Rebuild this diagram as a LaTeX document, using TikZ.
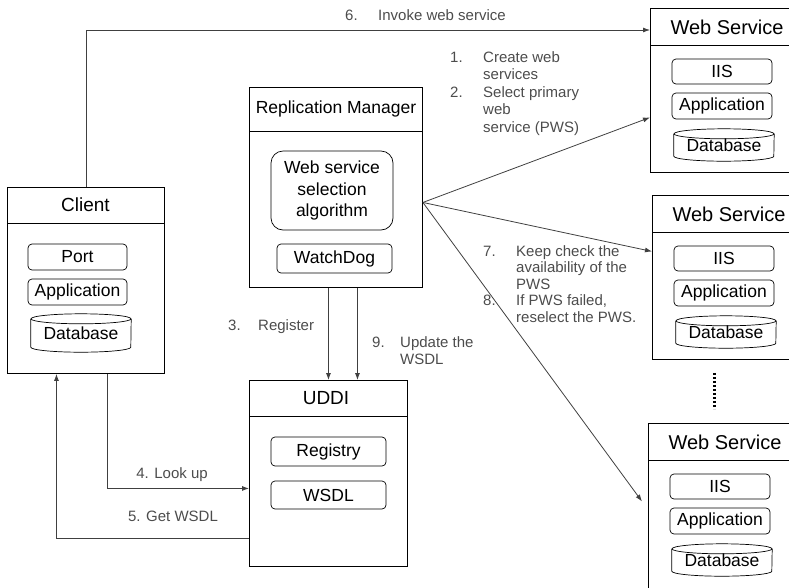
\documentclass[tikz,border=0pt]{standalone}
\usepackage{fontspec}
\setmainfont{Liberation Sans}
\usetikzlibrary{arrows.meta,calc}

\newcommand{\dbcyl}[1]{%
  \draw[line width=0.7pt] ([yshift=-5pt]#1.north west) -- ([yshift=5pt]#1.south west)
    arc[start angle=180, end angle=360, x radius=50pt, y radius=5pt]
    -- ([yshift=-5pt]#1.north east);
  \draw[line width=0.7pt] ([yshift=-5pt]#1.north) ellipse[x radius=50pt, y radius=5pt];}

\begin{document}
\begin{tikzpicture}[x=1pt,y=-1pt,
  box/.style={draw, line width=0.9pt, inner sep=0pt},
  item/.style={draw, rounded corners=4pt, line width=0.7pt, inner sep=0pt, font=\fontsize{17.5}{21.5}\selectfont},
  dbase/.style={inner sep=0pt, minimum width=100, font=\fontsize{17.5}{21}\selectfont},
  title/.style={inner sep=0pt, font=\fontsize{19}{22}\selectfont},
  lbl/.style={inner sep=0pt, text=black!70, font=\fontsize{15}{17.5}\selectfont},
  arr/.style={draw=black!75, line width=0.8pt, -{Latex[length=7pt,width=5pt]}},
  dots/.style={line width=2.2pt, dash pattern=on 2pt off 2pt}]

  \useasboundingbox (0,0) rectangle (789,587);
  \clip (0,0) rectangle (789,587);

  % client
  \node[box, minimum width=157, minimum height=186, anchor=north west] (client) at (7,187) {};
  \draw (7,223) -- (164,223);
  \node[title] (client-t) at (85.5,205) {Client};
  \node[item, minimum width=99, minimum height=26] (port) at (77.5,257) {Port};
  \node[item, minimum width=99, minimum height=26] (capp) at (77.5,292) {Application};
  \node[dbase, minimum height=38] (cdb) at (81,333) {\raisebox{-3pt}{Database}};
  \dbcyl{cdb}

  % replication manager
  \node[box, minimum width=173, minimum height=200, anchor=north west] (rm) at (249,87) {};
  \draw (249,131) -- (422,131);
  \node[title, font=\fontsize{17.5}{21}\selectfont] (rm-t) at (336,109) {Replication Manager};
  \node[item, minimum width=122, minimum height=79, align=center, rounded corners=12pt] (algo) at (332,190.5) {Web service\\selection\\algorithm};
  \node[item, minimum width=115, minimum height=29] (dog) at (334.5,258.5) {WatchDog};

  % uddi
  \node[box, minimum width=158, minimum height=186, anchor=north west] (uddi) at (249,380) {};
  \draw (249,416) -- (407,416);
  \node[title] (uddi-t) at (326,398) {UDDI};
  \node[item, minimum width=115, minimum height=29] (reg) at (328.5,451.5) {Registry};
  \node[item, minimum width=115, minimum height=28] (wsdl) at (328.5,495) {WSDL};

  % web services
  \foreach \n/\x/\y/\h in {ws1/650/8/164, ws2/652/195/164, ws3/648/423/170} {
    \node[box, minimum width=156, minimum height=\h, anchor=north west] (\n) at (\x,\y) {};
    \draw (\x,\y+37) -- (\x+160,\y+37);
    \node[title, font=\fontsize{20}{23}\selectfont] (\n-t) at (\x+77,\y+19) {Web Service};
    \node[item, minimum width=100, minimum height=25] (\n-iis) at (\x+72,\y+63.5) {IIS};
    \node[item, minimum width=100, minimum height=26] (\n-app) at (\x+72,\y+98) {Application};
    \node[dbase, minimum height=32] (\n-db) at (\x+74,\y+137) {\raisebox{-3pt}{Database}};
    \dbcyl{\n-db}
  }
  \draw[dots] ($(ws2.south)+(-16,13)$) -- ++(0,36);

  % connectors
  \coordinate (rmout) at ([yshift=-15pt]rm.east);
  \draw[arr] (client.north) |- ([yshift=-22pt]ws1.north west);
  \draw[arr] (rmout) -- ([yshift=-27pt]ws1.west);
  \draw[arr] (rmout) -- ([yshift=26pt]ws2.west);
  \draw[arr] (rmout) -- ([xshift=-6pt,yshift=7pt]ws3.west);
  \draw[arr] (rm.south -| uddi.north) -- (uddi.north);
  \draw[arr] ($(rm.south -| uddi.north)+(29,0)$) -- ($(uddi.north)+(29,0)$);
  \draw[arr] ([xshift=21.5pt]client.south) |- ([yshift=-15pt]uddi.west);
  \draw[arr] ([yshift=-65pt]uddi.west) -| ([xshift=-29.5pt]client.south);

  % labels
  \node[lbl, anchor=base west] (l6) at (345,20) {\begin{tabular}[t]{@{}p{33pt}@{}l@{}}6. & Invoke web service\end{tabular}};
  \node[lbl, anchor=base west] (l12) at (450,62) {\begin{tabular}[t]{@{}p{33pt}@{}l@{}}1. & Create web\\ & services\\ 2. & Select primary\\ & web\\ & service (PWS)\end{tabular}};
  \node[lbl, anchor=base west] (l3) at (228,330) {\begin{tabular}[t]{@{}p{30pt}@{}l@{}}3. & Register\end{tabular}};
  \node[lbl, anchor=base west] (l9) at (372,347) {\begin{tabular}[t]{@{}p{28pt}@{}l@{}}9. & Update the\\ & WSDL\end{tabular}};
  \node[lbl, anchor=base west, font=\fontsize{15}{16.5}\selectfont] (l78) at (483,256) {\begin{tabular}[t]{@{}p{33pt}@{}l@{}}7. & Keep check the\\ & availability of the\\ & PWS\\ 8. & If PWS failed,\\ & reselect the PWS.\end{tabular}};
  \node[lbl, anchor=base] (l4) at (172,478) {4. Look up};
  \node[lbl, anchor=base] (l5) at (173,521) {5. Get WSDL};
\end{tikzpicture}
\end{document}
